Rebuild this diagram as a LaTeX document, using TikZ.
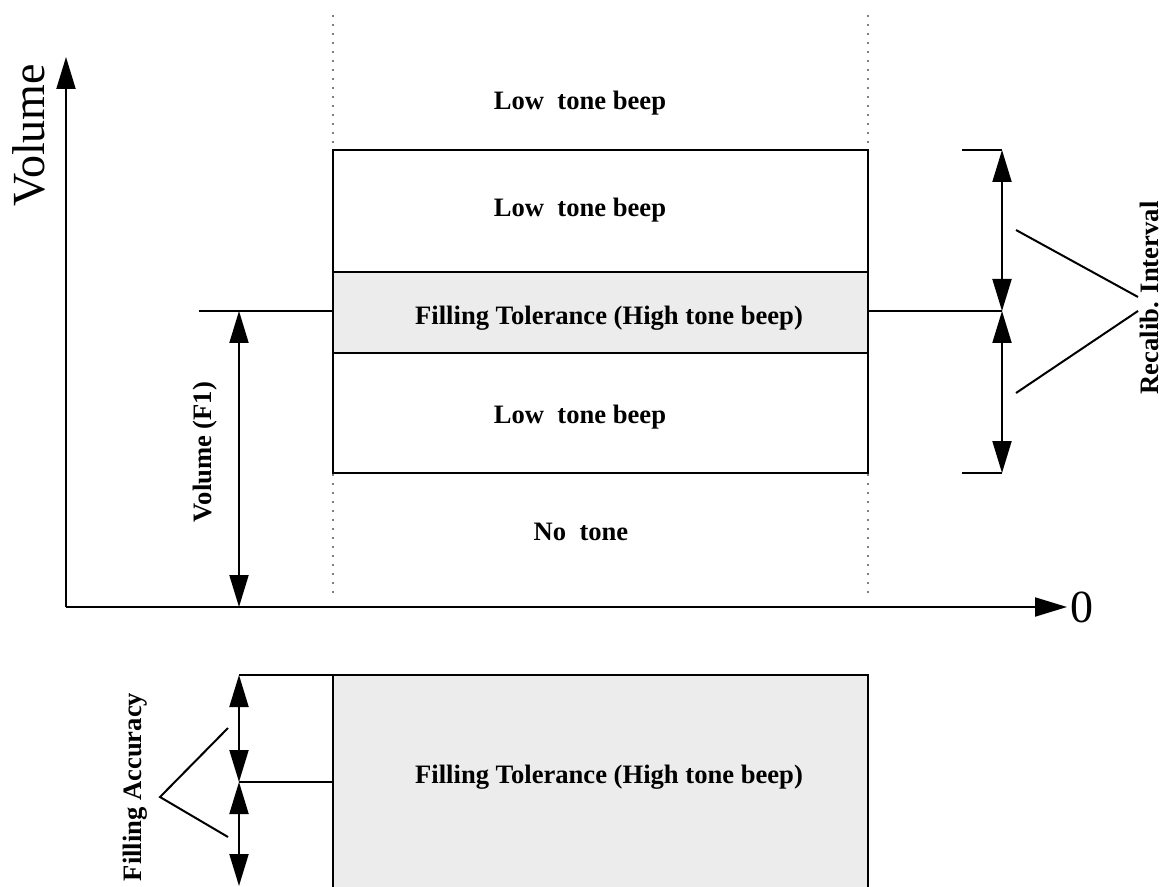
\documentclass[tikz,border=0pt]{standalone}
\usepackage{fontspec}
\setmainfont{Liberation Serif}
\usetikzlibrary{arrows.meta, positioning}
\definecolor{tolfill}{gray}{0.925}

\begin{document}
\begin{tikzpicture}[x=0.5pt, y=-0.5pt, line width=1pt,
    >={Triangle[length=16pt, width=9.5pt]},
    zone/.style={draw, inner sep=0pt, outer sep=0pt, minimum width=267.5pt},
    lbl/.style={font=\fontsize{13.3}{16}\selectfont\bfseries, inner sep=0pt},
    big/.style={font=\fontsize{23}{27}\selectfont, inner sep=1pt},
    guide/.style={gray, line width=0.6pt, dash pattern=on 1pt off 3.5pt}]
            \useasboundingbox (0,0) rectangle (1166,887);
            \clip (0,0) rectangle (1166,887);

            % Guides
            \coordinate (gl1) at (333,15);
            \coordinate (gl2) at (333,600);
            \coordinate (gr1) at (868,15);
            \coordinate (gr2) at (868,600);
            \draw[guide] (gl1) -- (gl2);
            \draw[guide] (gr1) -- (gr2);

            % Nodes
            \node[zone, fill=white, minimum height=61pt] (upper) at (600.5,211) {};
            \node[zone, fill=tolfill, minimum height=40.5pt] (tol) at (600.5,312.5) {};
            \node[zone, fill=white, minimum height=60pt] (lower) at (600.5,413) {};
            \node[zone, fill=tolfill, minimum height=120pt] (acc) at (600.5,795) {};

            \node[lbl, anchor=base] (above) at (580,110) {Low\ \ tone beep};
            \node[lbl, anchor=base] (uppertxt) at (580,217) {Low\ \ tone beep};
            \node[lbl, anchor=base] (toltxt) at (609,325) {Filling Tolerance (High tone beep)};
            \node[lbl, anchor=base] (lowertxt) at (580,423) {Low\ \ tone beep};
            \node[lbl, anchor=base] (notone) at (581,540) {No\ \ tone};
            \node[lbl, anchor=base] (acctxt) at (609,783) {Filling Tolerance (High tone beep)};

            \node[big, rotate=90] (ylabel) at (29,135) {Volume};
            \node[big, anchor=west] (zero) at (1067,607) {0};
            \node[lbl, rotate=90] (f1txt) at (205,452) {Volume (F1)};
            \node[lbl, rotate=90] (recal) at (1149,298) {Recalib. Interval};
            \node[lbl, rotate=90] (accuracy) at (135,787) {Filling Accuracy};

            \coordinate (origin) at (66,607);
            \coordinate (ytop) at (66,57);
            \coordinate (f1) at (239,311);
            \coordinate (f1tick) at (199,311);
            \coordinate (rtop) at (1002,150);
            \coordinate (rmid) at (1002,311);
            \coordinate (rbot) at (1002,473);
            \coordinate (rtoptick) at (962,150);
            \coordinate (rbottick) at (962,473);
            \coordinate (c1) at (1016,230);
            \coordinate (c2) at (1138,297);
            \coordinate (c3) at (1016,393);
            \coordinate (c4) at (1138,311);
            \coordinate (a1) at (239,675);
            \coordinate (a2) at (239,782);
            \coordinate (a3) at (239,886);
            \coordinate (b1) at (228,728);
            \coordinate (b2) at (160,797);
            \coordinate (b3) at (228,837);

            % Edges
            \draw[->] (origin) -- (ytop);
            \draw[->] (origin) -- (zero);

            \draw (f1tick) -- (tol.west |- f1);
            \draw[<->] (f1) -- (f1 |- origin);

            \draw (rtoptick) -- (rtop);
            \draw (rbottick) -- (rbot);
            \draw (tol.east |- rmid) -- (rmid);
            \draw[<->] (rmid) -- (rtop);
            \draw[<->] (rmid) -- (rbot);
            \draw (c1) -- (c2);
            \draw (c3) -- (c4);

            \draw (a1) -- (acc.north west);
            \draw (a2) -- (acc.west |- a2);
            \draw[<->] (a2) -- (a1);
            \draw[<->] (a2) -- (a3);
            \draw (b1) -- (b2) -- (b3);
        \end{tikzpicture}
\end{document}
